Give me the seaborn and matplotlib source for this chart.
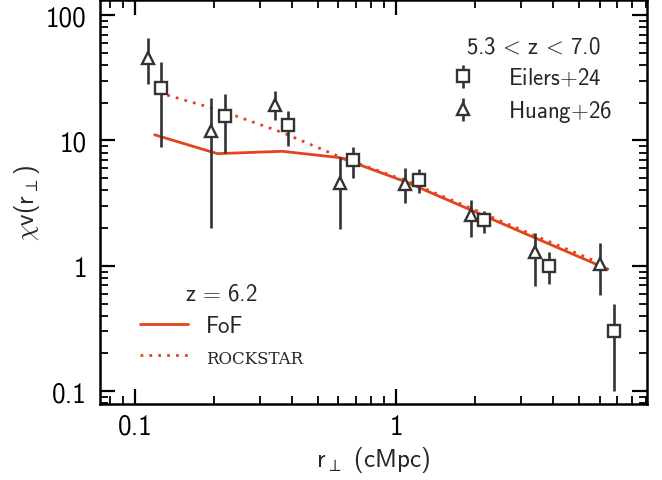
import matplotlib
matplotlib.use("Agg")
import numpy as np
import pandas as pd
import seaborn as sns
import matplotlib.pyplot as plt
from matplotlib.ticker import FixedLocator, FixedFormatter, LogLocator, NullFormatter
from matplotlib.lines import Line2D

# ---------------- data ----------------
eilers_r = [0.126, 0.221, 0.385, 0.684, 1.224, 2.16, 3.84, 6.79]
eilers_chi = [26.2, 15.8, 13.3, 7.03, 4.88, 2.32, 1.00, 0.30]
eilers_lo = [8.85, 7.9, 9.1, 5.06, 3.82, 1.82, 0.71, 0.10]
eilers_hi = [42.6, 23.5, 17.1, 8.85, 5.92, 2.75, 1.29, 0.50]

huang_r = [0.112, 0.196, 0.345, 0.608, 1.085, 1.93, 3.40, 6.04]
huang_chi = [45.6, 12.0, 19.3, 4.6, 4.53, 2.54, 1.28, 1.04]
huang_lo = [28.0, 2.0, 14.6, 1.95, 3.18, 1.69, 0.69, 0.58]
huang_hi = [66.0, 22.0, 24.6, 7.4, 6.07, 3.38, 1.82, 1.51]

fof_r = [0.119, 0.207, 0.366, 0.611, 1.09, 1.93, 3.40, 6.46]
fof_chi = [11.1, 7.85, 8.2, 7.29, 4.67, 2.79, 1.67, 0.94]

rock_r = [0.133, 0.21, 0.366, 0.611, 1.09, 1.93, 3.40, 6.1]
rock_chi = [23.0, 17.5, 11.6, 7.37, 4.78, 2.88, 1.74, 1.04]

y_ticks = [0.1, 1, 10, 100]
y_ticklabels = ["0.1", "1", "10", "100"]
x_ticks = [0.1, 1]
x_ticklabels = ["0.1", "1"]

data_title = r"5.3$\,<\,$z$\,<\,$7.0"
model_title = r"z$\,=\,$6.2"
eilers_label = r"Eilers$+$24"
huang_label = r"Huang$+$26"
fof_label = "FoF"
rock_label = "ROCKSTAR"

# ---------------- style ----------------
sns.set_style("ticks")
plt.rcParams["font.family"] = ["cmss10", "DejaVu Sans"]
plt.rcParams["mathtext.fontset"] = "cm"
plt.rcParams["axes.unicode_minus"] = False

RED = "#e4441c"
GREY = "#333333"

fig = plt.figure(figsize=(6.62, 4.81), dpi=100)
ax = fig.add_axes([0.151, 0.158, 0.826, 0.839])

# models
fof_df = pd.DataFrame({"r": fof_r, "chi": fof_chi})
rock_df = pd.DataFrame({"r": rock_r, "chi": rock_chi})
sns.lineplot(data=fof_df, x="r", y="chi", ax=ax, color=RED, lw=2.0,
             sort=False, estimator=None, zorder=2)
sns.lineplot(data=rock_df, x="r", y="chi", ax=ax, color=RED, lw=2.0,
             linestyle=(0, (1, 2.2)), sort=False, estimator=None, zorder=2)

# data with asymmetric errors
def yerr(v, lo, hi):
    v = np.asarray(v); lo = np.asarray(lo); hi = np.asarray(hi)
    return np.vstack([v - lo, hi - v])

eb_kw = dict(ls="none", color=GREY, ecolor=GREY, elinewidth=1.9, capsize=0,
             mfc="white", mec=GREY, mew=1.7, zorder=3)
h_e = ax.errorbar(eilers_r, eilers_chi, yerr=yerr(eilers_chi, eilers_lo, eilers_hi),
                  marker="s", ms=8, **eb_kw)
h_h = ax.errorbar(huang_r, huang_chi, yerr=yerr(huang_chi, huang_lo, huang_hi),
                  marker="^", ms=9, **eb_kw)

ax.set_xscale("log")
ax.set_yscale("log")
ax.set_xlim(0.0735, 9.1)
ax.set_ylim(0.079, 131)

ax.yaxis.set_major_locator(FixedLocator(y_ticks))
ax.yaxis.set_major_formatter(FixedFormatter(y_ticklabels))
ax.xaxis.set_major_locator(FixedLocator(x_ticks))
ax.xaxis.set_major_formatter(FixedFormatter(x_ticklabels))
ax.xaxis.set_minor_locator(LogLocator(base=10, subs=np.arange(2, 10), numticks=20))
ax.yaxis.set_minor_locator(LogLocator(base=10, subs=np.arange(2, 10), numticks=20))
ax.xaxis.set_minor_formatter(NullFormatter())
ax.yaxis.set_minor_formatter(NullFormatter())

ax.tick_params(which="both", direction="in", top=True, right=True, labelsize=19.5,
               colors="black")
ax.tick_params(which="major", length=11, width=1.6, pad=7)
ax.tick_params(axis="y", which="major", pad=9.5)
ax.tick_params(which="minor", length=6, width=1.3)
for s in ax.spines.values():
    s.set_linewidth(1.8)
    s.set_color("black")

ax.set_xlabel(r"r$_\perp$ (cMpc)", fontsize=18, labelpad=4)
ax.set_ylabel(r"$\chi$v(r$_\perp$)", fontsize=18, labelpad=3)

# legends
leg1 = ax.legend([h_e, h_h], [eilers_label, huang_label], title=data_title,
                 loc="upper right", bbox_to_anchor=(0.975, 0.965), frameon=False,
                 fontsize=16.5, title_fontsize=16.5, handlelength=0.8,
                 handletextpad=1.6, labelspacing=0.4)
ax.add_artist(leg1)

l_fof = Line2D([], [], color=RED, lw=2.0)
l_rock = Line2D([], [], color=RED, lw=2.0, linestyle=(0, (1, 2.2)))
leg2 = ax.legend([l_fof, l_rock], [fof_label, rock_label], title=model_title,
                 loc="lower left", bbox_to_anchor=(0.035, 0.04), frameon=False,
                 fontsize=16.5, title_fontsize=16.5, handlelength=2.1,
                 handletextpad=0.8, labelspacing=0.45)
t_rock = leg2.get_texts()[1]
t_rock.set_family(["DejaVu Serif"])
t_rock.set_fontsize(12)

fig.savefig("out.png", dpi=100)
